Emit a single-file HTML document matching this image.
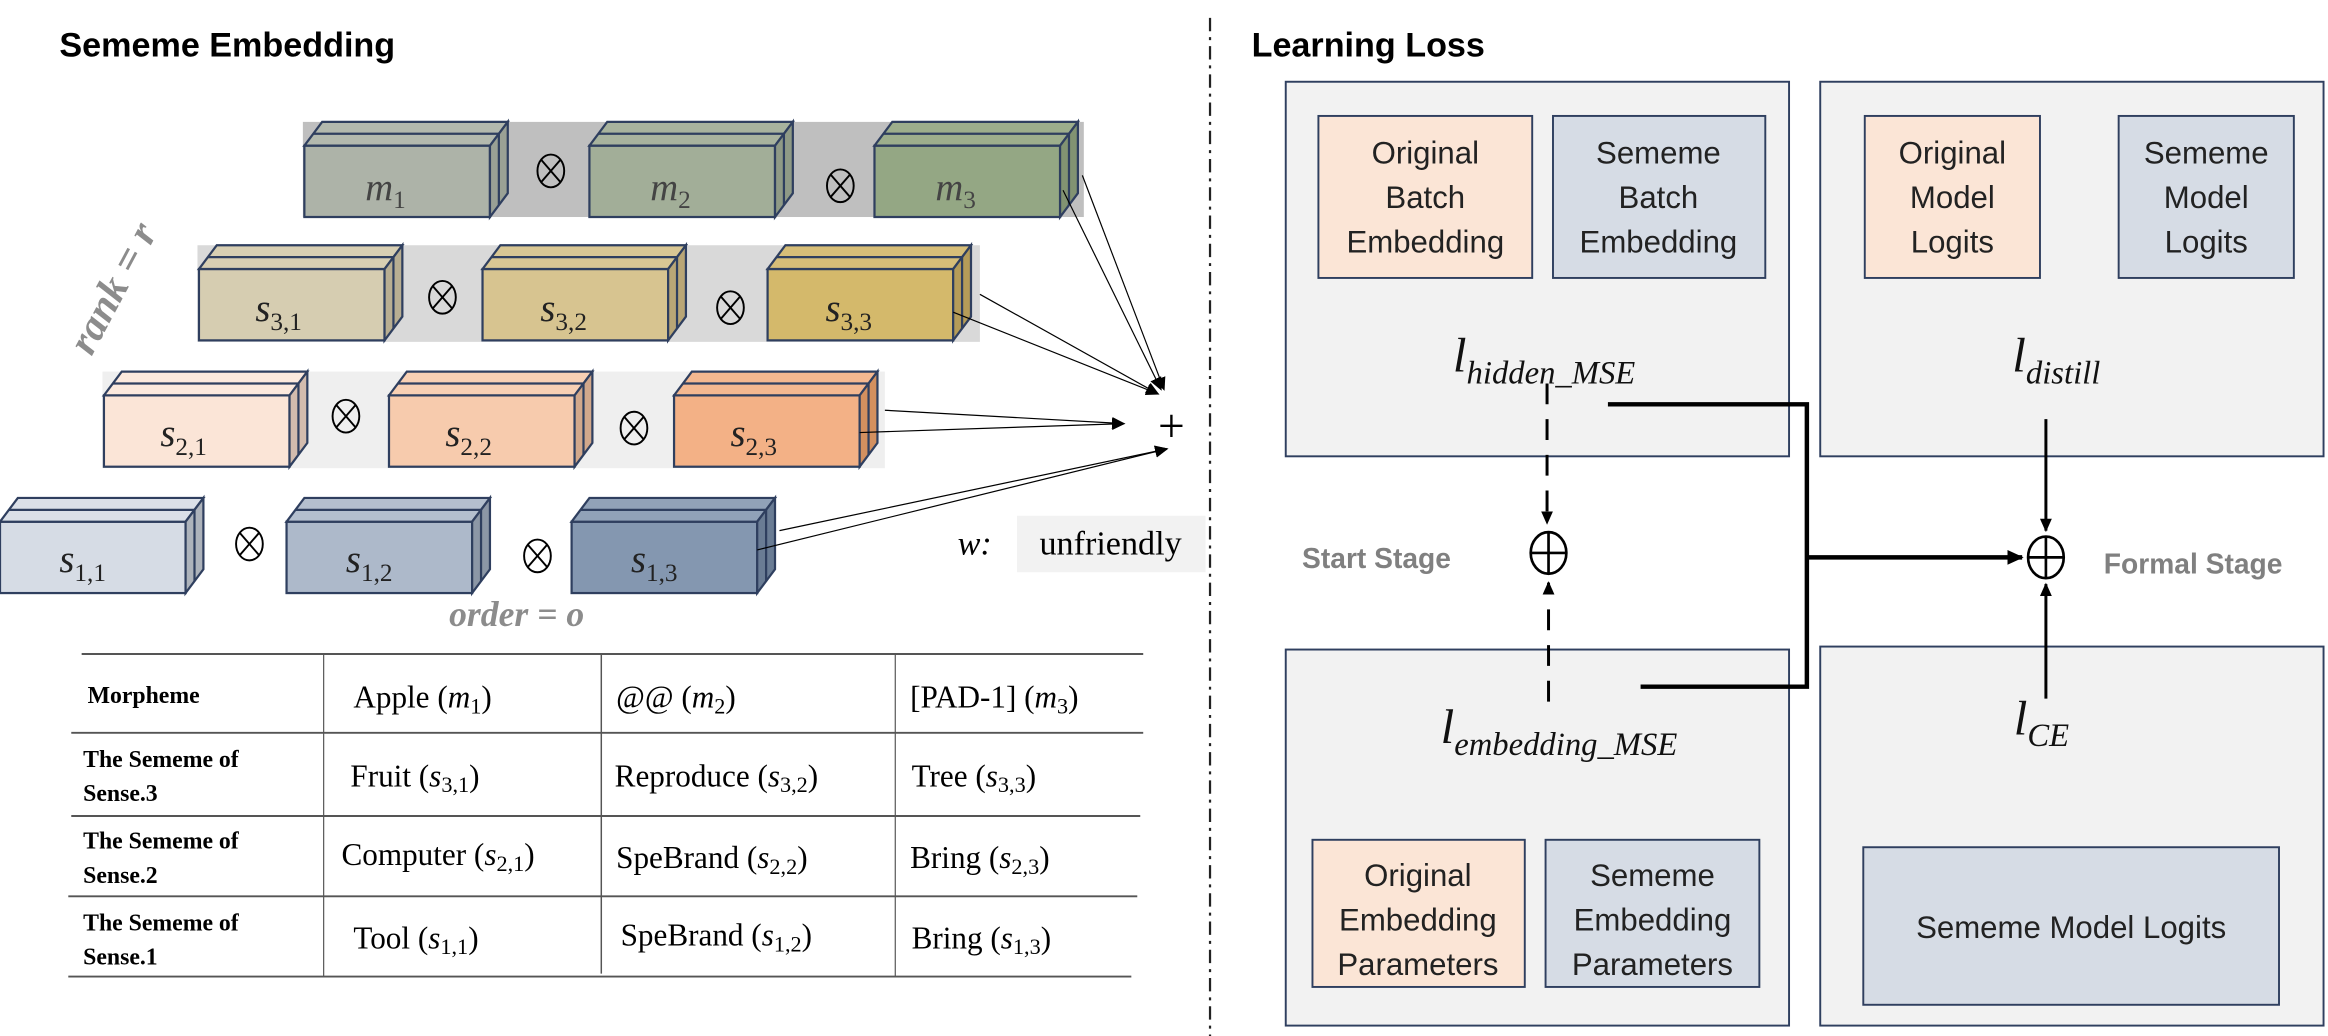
<!DOCTYPE html>
<html><head><meta charset="utf-8"><style>
html,body{margin:0;padding:0;background:#fff}
svg{display:block}
.serif{font-family:"Liberation Serif",serif}
.sans{font-family:"Liberation Sans",sans-serif}
.lbl{font-family:"Liberation Serif",serif;font-style:italic;font-size:26px;fill:#222}
.sub{font-size:17px;font-style:normal}
.cell{font-family:"Liberation Serif",serif;font-size:21px;fill:#000}
.hdr{font-family:"Liberation Serif",serif;font-size:16px;font-weight:bold;fill:#000}
.box{font-family:"Liberation Sans",sans-serif;font-size:21px;fill:#222;text-anchor:middle}
.ml{font-family:"Liberation Serif",serif;font-style:italic;font-size:33px;fill:#111;text-anchor:middle}
.ms{font-size:22px}
</style></head><body>
<svg width="2328" height="1036" viewBox="0 0 1568 697" preserveAspectRatio="none" xmlns="http://www.w3.org/2000/svg">
<defs>
<marker id="ah" markerWidth="10" markerHeight="10" refX="8" refY="5" orient="auto" markerUnits="userSpaceOnUse"><path d="M0,1 L9,5 L0,9 z" fill="#000"/></marker>
<marker id="ah2" markerWidth="12" markerHeight="12" refX="10" refY="6" orient="auto" markerUnits="userSpaceOnUse"><path d="M0,1 L11,6 L0,11 z" fill="#000"/></marker>
</defs>
<text x="40" y="38" class="sans" font-size="23" font-weight="bold">Sememe Embedding</text>
<text x="843" y="38" class="sans" font-size="23" font-weight="bold">Learning Loss</text>
<line x1="815" y1="12" x2="815" y2="697" stroke="#222" stroke-width="1.5" stroke-dasharray="9,4,2,4"/>

<rect x="204" y="82" width="526" height="64" fill="#bfbfbf"/>
<rect x="133" y="165" width="527" height="65" fill="#d9d9d9"/>
<rect x="69" y="250" width="527" height="65" fill="#efefef"/>

<g stroke="#2f3f5f" stroke-width="1.5">
<g transform="translate(205,82)"><rect x="0" y="16" width="125" height="48" fill="#adb3a8"/><polygon points="0,16 12,0 137,0 125,16" fill="#b3b9ae"/><line x1="6" y1="8" x2="131" y2="8"/><polygon points="125,16 137,0 137,48 125,64" fill="#9aa195"/><line x1="131" y1="8" x2="131" y2="56"/></g>
<g transform="translate(397,82)"><rect x="0" y="16" width="125" height="48" fill="#a2ae98"/><polygon points="0,16 12,0 137,0 125,16" fill="#a8b39e"/><line x1="6" y1="8" x2="131" y2="8"/><polygon points="125,16 137,0 137,48 125,64" fill="#8f9a86"/><line x1="131" y1="8" x2="131" y2="56"/></g>
<g transform="translate(589,82)"><rect x="0" y="16" width="125" height="48" fill="#94a784"/><polygon points="0,16 12,0 137,0 125,16" fill="#9dae8c"/><line x1="6" y1="8" x2="131" y2="8"/><polygon points="125,16 137,0 137,48 125,64" fill="#829372"/><line x1="131" y1="8" x2="131" y2="56"/></g>
<g transform="translate(134,165)"><rect x="0" y="16" width="125" height="48" fill="#d6cdb1"/><polygon points="0,16 12,0 137,0 125,16" fill="#d8cfb3"/><line x1="6" y1="8" x2="131" y2="8"/><polygon points="125,16 137,0 137,48 125,64" fill="#b8ae92"/><line x1="131" y1="8" x2="131" y2="56"/></g>
<g transform="translate(325,165)"><rect x="0" y="16" width="125" height="48" fill="#d7c490"/><polygon points="0,16 12,0 137,0 125,16" fill="#d9c794"/><line x1="6" y1="8" x2="131" y2="8"/><polygon points="125,16 137,0 137,48 125,64" fill="#b9a676"/><line x1="131" y1="8" x2="131" y2="56"/></g>
<g transform="translate(517,165)"><rect x="0" y="16" width="125" height="48" fill="#d4b96b"/><polygon points="0,16 12,0 137,0 125,16" fill="#d7be78"/><line x1="6" y1="8" x2="131" y2="8"/><polygon points="125,16 137,0 137,48 125,64" fill="#b59c58"/><line x1="131" y1="8" x2="131" y2="56"/></g>
<g transform="translate(70,250)"><rect x="0" y="16" width="125" height="48" fill="#fbe5d7"/><polygon points="0,16 12,0 137,0 125,16" fill="#fce9dd"/><line x1="6" y1="8" x2="131" y2="8"/><polygon points="125,16 137,0 137,48 125,64" fill="#d3bcae"/><line x1="131" y1="8" x2="131" y2="56"/></g>
<g transform="translate(262,250)"><rect x="0" y="16" width="125" height="48" fill="#f7cbad"/><polygon points="0,16 12,0 137,0 125,16" fill="#f8d0b4"/><line x1="6" y1="8" x2="131" y2="8"/><polygon points="125,16 137,0 137,48 125,64" fill="#d2a88b"/><line x1="131" y1="8" x2="131" y2="56"/></g>
<g transform="translate(454,250)"><rect x="0" y="16" width="125" height="48" fill="#f3b186"/><polygon points="0,16 12,0 137,0 125,16" fill="#f4b890"/><line x1="6" y1="8" x2="131" y2="8"/><polygon points="125,16 137,0 137,48 125,64" fill="#d3905f"/><line x1="131" y1="8" x2="131" y2="56"/></g>
<g transform="translate(0,335)"><rect x="0" y="16" width="125" height="48" fill="#d6dce5"/><polygon points="0,16 12,0 137,0 125,16" fill="#dbe0e8"/><line x1="6" y1="8" x2="131" y2="8"/><polygon points="125,16 137,0 137,48 125,64" fill="#adb3bb"/><line x1="131" y1="8" x2="131" y2="56"/></g>
<g transform="translate(193,335)"><rect x="0" y="16" width="125" height="48" fill="#adb9ca"/><polygon points="0,16 12,0 137,0 125,16" fill="#b4bfce"/><line x1="6" y1="8" x2="131" y2="8"/><polygon points="125,16 137,0 137,48 125,64" fill="#8c97a6"/><line x1="131" y1="8" x2="131" y2="56"/></g>
<g transform="translate(385,335)"><rect x="0" y="16" width="125" height="48" fill="#8497b0"/><polygon points="0,16 12,0 137,0 125,16" fill="#91a2b8"/><line x1="6" y1="8" x2="131" y2="8"/><polygon points="125,16 137,0 137,48 125,64" fill="#6a7c94"/><line x1="131" y1="8" x2="131" y2="56"/></g>
</g>

<g class="lbl">
<text x="246" y="135" fill="#444">m<tspan class="sub" dy="5">1</tspan></text>
<text x="438" y="135" fill="#444">m<tspan class="sub" dy="5">2</tspan></text>
<text x="630" y="135" fill="#444">m<tspan class="sub" dy="5">3</tspan></text>
<text x="172" y="216">s<tspan class="sub" dy="6">3,1</tspan></text>
<text x="364" y="216">s<tspan class="sub" dy="6">3,2</tspan></text>
<text x="556" y="216">s<tspan class="sub" dy="6">3,3</tspan></text>
<text x="108" y="300">s<tspan class="sub" dy="6">2,1</tspan></text>
<text x="300" y="300">s<tspan class="sub" dy="6">2,2</tspan></text>
<text x="492" y="300">s<tspan class="sub" dy="6">2,3</tspan></text>
<text x="40" y="385">s<tspan class="sub" dy="6">1,1</tspan></text>
<text x="233" y="385">s<tspan class="sub" dy="6">1,2</tspan></text>
<text x="425" y="385">s<tspan class="sub" dy="6">1,3</tspan></text>
</g>

<g fill="none" stroke="#000" stroke-width="1.3">
<g transform="translate(371,115)"><ellipse rx="9" ry="11"/><line x1="-6.5" y1="-7.5" x2="6.5" y2="7.5"/><line x1="6.5" y1="-7.5" x2="-6.5" y2="7.5"/></g>
<g transform="translate(566,125)"><ellipse rx="9" ry="11"/><line x1="-6.5" y1="-7.5" x2="6.5" y2="7.5"/><line x1="6.5" y1="-7.5" x2="-6.5" y2="7.5"/></g>
<g transform="translate(298,200)"><ellipse rx="9" ry="11"/><line x1="-6.5" y1="-7.5" x2="6.5" y2="7.5"/><line x1="6.5" y1="-7.5" x2="-6.5" y2="7.5"/></g>
<g transform="translate(492,207)"><ellipse rx="9" ry="11"/><line x1="-6.5" y1="-7.5" x2="6.5" y2="7.5"/><line x1="6.5" y1="-7.5" x2="-6.5" y2="7.5"/></g>
<g transform="translate(233,280)"><ellipse rx="9" ry="11"/><line x1="-6.5" y1="-7.5" x2="6.5" y2="7.5"/><line x1="6.5" y1="-7.5" x2="-6.5" y2="7.5"/></g>
<g transform="translate(427,288)"><ellipse rx="9" ry="11"/><line x1="-6.5" y1="-7.5" x2="6.5" y2="7.5"/><line x1="6.5" y1="-7.5" x2="-6.5" y2="7.5"/></g>
<g transform="translate(168,366)"><ellipse rx="9" ry="11"/><line x1="-6.5" y1="-7.5" x2="6.5" y2="7.5"/><line x1="6.5" y1="-7.5" x2="-6.5" y2="7.5"/></g>
<g transform="translate(362,374)"><ellipse rx="9" ry="11"/><line x1="-6.5" y1="-7.5" x2="6.5" y2="7.5"/><line x1="6.5" y1="-7.5" x2="-6.5" y2="7.5"/></g>
</g>

<g stroke="#000" stroke-width="0.8" fill="none" marker-end="url(#ah)">
<line x1="729" y1="118" x2="784" y2="262"/>
<line x1="716" y1="128" x2="782" y2="262"/>
<line x1="660" y1="198" x2="780" y2="265"/>
<line x1="642" y1="210" x2="780" y2="265"/>
<line x1="596" y1="276" x2="757" y2="285"/>
<line x1="579" y1="291" x2="757" y2="285"/>
<line x1="525" y1="357" x2="786" y2="302"/>
<line x1="510" y1="370" x2="786" y2="302"/>
</g>
<text x="789" y="297" text-anchor="middle" class="serif" font-size="32">+</text>
<text x="645" y="373" class="serif" font-style="italic" font-size="23">w:</text>
<rect x="685" y="347" width="127" height="38" fill="#f2f2f2"/>
<text x="748" y="373" text-anchor="middle" class="serif" font-size="23">unfriendly</text>

<text transform="translate(84,198) rotate(-62)" text-anchor="middle" class="serif" font-style="italic" font-weight="bold" font-size="28" fill="#8c8c8c">rank = r</text>
<text x="348" y="421" text-anchor="middle" class="serif" font-style="italic" font-weight="bold" font-size="24" fill="#8c8c8c">order = o</text>

<g stroke="#555" stroke-width="1.3">
<line x1="55" y1="440" x2="770" y2="440"/>
<line x1="48" y1="493" x2="770" y2="493"/>
<line x1="48" y1="549" x2="768" y2="549"/>
<line x1="46" y1="603" x2="766" y2="603"/>
<line x1="46" y1="657" x2="762" y2="657"/>
<line x1="218" y1="440" x2="218" y2="657" stroke-width="0.8"/>
<line x1="405" y1="440" x2="405" y2="655" stroke-width="1"/>
<line x1="603" y1="440" x2="603" y2="657" stroke-width="0.8"/>
</g>
<g class="hdr">
<text x="59" y="473">Morpheme</text>
<text x="56" y="516">The Sememe of</text><text x="56" y="539">Sense.3</text>
<text x="56" y="571">The Sememe of</text><text x="56" y="594">Sense.2</text>
<text x="56" y="626">The Sememe of</text><text x="56" y="649">Sense.1</text>
</g>
<g class="cell">
<text x="238" y="476">Apple (<tspan font-style="italic">m</tspan><tspan font-size="15" dy="4">1</tspan><tspan dy="-4">)</tspan></text>
<text x="415" y="476">@@ (<tspan font-style="italic">m</tspan><tspan font-size="15" dy="4">2</tspan><tspan dy="-4">)</tspan></text>
<text x="613" y="476">[PAD-1] (<tspan font-style="italic">m</tspan><tspan font-size="15" dy="4">3</tspan><tspan dy="-4">)</tspan></text>
<text x="236" y="529">Fruit (<tspan font-style="italic">s</tspan><tspan font-size="15" dy="4">3,1</tspan><tspan dy="-4">)</tspan></text>
<text x="414" y="529">Reproduce (<tspan font-style="italic">s</tspan><tspan font-size="15" dy="4">3,2</tspan><tspan dy="-4">)</tspan></text>
<text x="614" y="529">Tree (<tspan font-style="italic">s</tspan><tspan font-size="15" dy="4">3,3</tspan><tspan dy="-4">)</tspan></text>
<text x="230" y="582">Computer (<tspan font-style="italic">s</tspan><tspan font-size="15" dy="4">2,1</tspan><tspan dy="-4">)</tspan></text>
<text x="415" y="584">SpeBrand (<tspan font-style="italic">s</tspan><tspan font-size="15" dy="4">2,2</tspan><tspan dy="-4">)</tspan></text>
<text x="613" y="584">Bring (<tspan font-style="italic">s</tspan><tspan font-size="15" dy="4">2,3</tspan><tspan dy="-4">)</tspan></text>
<text x="238" y="638">Tool (<tspan font-style="italic">s</tspan><tspan font-size="15" dy="4">1,1</tspan><tspan dy="-4">)</tspan></text>
<text x="418" y="636">SpeBrand (<tspan font-style="italic">s</tspan><tspan font-size="15" dy="4">1,2</tspan><tspan dy="-4">)</tspan></text>
<text x="614" y="638">Bring (<tspan font-style="italic">s</tspan><tspan font-size="15" dy="4">1,3</tspan><tspan dy="-4">)</tspan></text>
</g>

<g fill="#f2f2f2" stroke="#2f3f5f" stroke-width="1.3">
<rect x="866" y="55" width="339" height="252"/>
<rect x="1226" y="55" width="339" height="252"/>
<rect x="866" y="437" width="339" height="253"/>
<rect x="1226" y="435" width="339" height="255"/>
</g>
<g stroke="#2f3f5f" stroke-width="1.3">
<rect x="888" y="78" width="144" height="109" fill="#fbe5d6"/>
<rect x="1046" y="78" width="143" height="109" fill="#d6dce5"/>
<rect x="1256" y="78" width="118" height="109" fill="#fbe5d6"/>
<rect x="1427" y="78" width="118" height="109" fill="#d6dce5"/>
<rect x="884" y="565" width="143" height="99" fill="#fbe5d6"/>
<rect x="1041" y="565" width="144" height="99" fill="#d6dce5"/>
<rect x="1255" y="570" width="280" height="106" fill="#d6dce5"/>
</g>
<g class="box">
<text x="960" y="110">Original</text><text x="960" y="140">Batch</text><text x="960" y="170">Embedding</text>
<text x="1117" y="110">Sememe</text><text x="1117" y="140">Batch</text><text x="1117" y="170">Embedding</text>
<text x="1315" y="110">Original</text><text x="1315" y="140">Model</text><text x="1315" y="170">Logits</text>
<text x="1486" y="110">Sememe</text><text x="1486" y="140">Model</text><text x="1486" y="170">Logits</text>
<text x="955" y="596">Original</text><text x="955" y="626">Embedding</text><text x="955" y="656">Parameters</text>
<text x="1113" y="596">Sememe</text><text x="1113" y="626">Embedding</text><text x="1113" y="656">Parameters</text>
<text x="1395" y="631">Sememe Model Logits</text>
</g>
<text x="1040" y="250" class="ml">l<tspan class="ms" dy="8">hidden_MSE</tspan></text>
<text x="1385" y="250" class="ml">l<tspan class="ms" dy="8">distill</tspan></text>
<text x="1050" y="500" class="ml">l<tspan class="ms" dy="8">embedding_MSE</tspan></text>
<text x="1375" y="494" class="ml">l<tspan class="ms" dy="8">CE</tspan></text>

<line x1="1042" y1="258" x2="1042" y2="352" stroke="#000" stroke-width="2" stroke-dasharray="14,10" marker-end="url(#ah)"/>
<line x1="1043" y1="472" x2="1043" y2="392" stroke="#000" stroke-width="2" stroke-dasharray="14,10" marker-end="url(#ah)"/>
<g fill="none" stroke="#000" stroke-width="1.8"><ellipse cx="1043" cy="372" rx="12" ry="14"/><line x1="1031" y1="372" x2="1055" y2="372"/><line x1="1043" y1="358" x2="1043" y2="386"/>
<ellipse cx="1378" cy="375" rx="12" ry="14"/><line x1="1366" y1="375" x2="1390" y2="375"/><line x1="1378" y1="361" x2="1378" y2="389"/></g>
<polyline points="1083,272 1217,272 1217,462 1105,462" fill="none" stroke="#000" stroke-width="3"/>
<line x1="1217" y1="375" x2="1362" y2="375" stroke="#000" stroke-width="3" marker-end="url(#ah2)"/>
<line x1="1378" y1="282" x2="1378" y2="357" stroke="#000" stroke-width="2" marker-end="url(#ah)"/>
<line x1="1378" y1="470" x2="1378" y2="393" stroke="#000" stroke-width="2" marker-end="url(#ah)"/>
<text x="877" y="382" class="sans" font-size="19" font-weight="bold" fill="#808080">Start Stage</text>
<text x="1417" y="386" class="sans" font-size="19" font-weight="bold" fill="#808080">Formal Stage</text>
</svg>
</body></html>
